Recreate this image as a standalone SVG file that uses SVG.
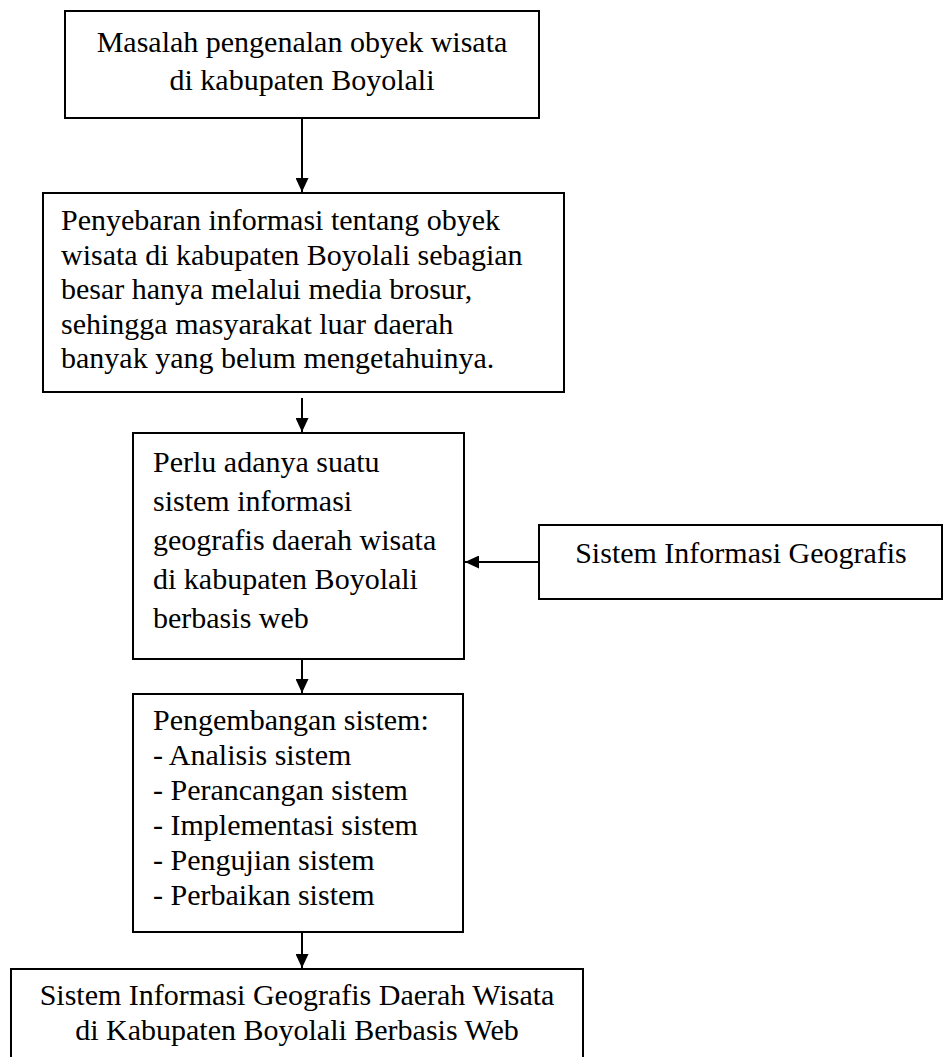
<svg xmlns="http://www.w3.org/2000/svg" width="943" height="1057" viewBox="0 0 943 1057">
<style>
.box{fill:#fff;stroke:#000;stroke-width:2}
.t{font-family:"Liberation Serif","Times New Roman",serif;font-size:30px;fill:#000}
.c{text-anchor:middle}
.line{stroke:#000;stroke-width:2;fill:none}
</style>
<defs>
<marker id="ah" viewBox="0 0 14 13" refX="14" refY="6.5" markerWidth="14" markerHeight="13" markerUnits="userSpaceOnUse" orient="auto">
<path d="M0,0 L14,6.5 L0,13 Z" fill="#000"/>
</marker>
</defs>
<g id="connectors">
<line class="line" x1="302" y1="118" x2="302" y2="192" marker-end="url(#ah)"/>
<line class="line" x1="302" y1="398" x2="302" y2="432" marker-end="url(#ah)"/>
<line class="line" x1="539" y1="562" x2="465" y2="562" marker-end="url(#ah)"/>
<line class="line" x1="302" y1="659" x2="302" y2="693" marker-end="url(#ah)"/>
<line class="line" x1="302" y1="932" x2="302" y2="968" marker-end="url(#ah)"/>
</g>
<g id="n1">
<rect class="box" x="65" y="11" width="474" height="107"/>
<text class="t c" x="302" y="52">Masalah pengenalan obyek wisata</text>
<text class="t c" x="302" y="90">di kabupaten Boyolali</text>
</g>
<g id="n2">
<rect class="box" x="43" y="193" width="521" height="199"/>
<text class="t" x="61" y="230">Penyebaran informasi tentang obyek</text>
<text class="t" x="61" y="264.5">wisata di kabupaten Boyolali sebagian</text>
<text class="t" x="61" y="299">besar hanya melalui media brosur,</text>
<text class="t" x="61" y="333.5">sehingga masyarakat luar daerah</text>
<text class="t" x="61" y="368">banyak yang belum mengetahuinya.</text>
</g>
<g id="n3">
<rect class="box" x="133" y="433" width="331" height="226"/>
<text class="t" x="153" y="472">Perlu adanya suatu</text>
<text class="t" x="153" y="511">sistem informasi</text>
<text class="t" x="153" y="550">geografis daerah wisata</text>
<text class="t" x="153" y="589">di kabupaten Boyolali</text>
<text class="t" x="153" y="628">berbasis web</text>
</g>
<g id="n4">
<rect class="box" x="539" y="525" width="403" height="74"/>
<text class="t c" x="741" y="563">Sistem Informasi Geografis</text>
</g>
<g id="n5">
<rect class="box" x="133" y="694" width="330" height="238"/>
<text class="t" x="153" y="730">Pengembangan sistem:</text>
<text class="t" x="153" y="765">- Analisis sistem</text>
<text class="t" x="153" y="800">- Perancangan sistem</text>
<text class="t" x="153" y="835">- Implementasi sistem</text>
<text class="t" x="153" y="870">- Pengujian sistem</text>
<text class="t" x="153" y="905">- Perbaikan sistem</text>
</g>
<g id="n6">
<rect class="box" x="11" y="969" width="572" height="100"/>
<text class="t c" x="297" y="1005">Sistem Informasi Geografis Daerah Wisata</text>
<text class="t c" x="297" y="1040">di Kabupaten Boyolali Berbasis Web</text>
</g>
</svg>
